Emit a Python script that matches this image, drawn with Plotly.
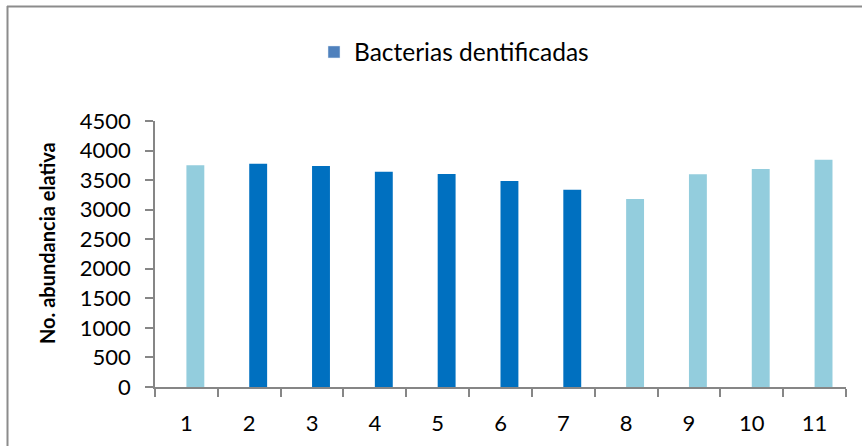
import plotly.graph_objects as go

# Sample numbers and their relative abundance
categories = ["1", "2", "3", "4", "5", "6", "7", "8", "9", "10", "11"]
abundance = [3750, 3775, 3740, 3640, 3605, 3485, 3335, 3180, 3600, 3690, 3845]
bar_colors = ["#93CDDD", "#0070C0", "#0070C0", "#0070C0", "#0070C0", "#0070C0",
              "#0070C0", "#93CDDD", "#93CDDD", "#93CDDD", "#93CDDD"]
y_ticks = [0, 500, 1000, 1500, 2000, 2500, 3000, 3500, 4000, 4500]
series_name = "Bacterias dentificadas"
y_title = "No. abundancia elativa"

FONT = "Lato, 'Open Sans', sans-serif"
AXIS_GRAY = "#868686"

fig = go.Figure()

fig.add_trace(go.Bar(
    x=categories, y=abundance,
    marker=dict(color=bar_colors, line=dict(width=0)),
    offset=0, width=0.285,
    showlegend=False,
))

# legend entry in the series colour
fig.add_trace(go.Bar(
    x=[categories[0]], y=[None], name=series_name,
    marker=dict(color="#4F81BD"), showlegend=True,
))

L, R, T, B = 155, 16, 121, 59
W, H = 862, 446
pw = W - L - R
ph = H - T - B

def px_x(p):
    return (p - L) / pw

def px_y(p):
    return (H - B - p) / ph

# chart frame: left and top edges
fig.add_shape(type="line", xref="paper", yref="paper",
              x0=px_x(7.5), x1=px_x(7.5), y0=px_y(6), y1=px_y(H + 5),
              line=dict(color="#8C8C8C", width=2))
fig.add_shape(type="line", xref="paper", yref="paper",
              x0=px_x(7), x1=px_x(W + 5), y0=px_y(6.5), y1=px_y(6.5),
              line=dict(color="#8C8C8C", width=2))

# vertical axis title
fig.add_annotation(
    text="<b>" + y_title + "</b>", textangle=-90,
    xref="paper", yref="paper", x=px_x(47), y=px_y(243),
    xanchor="center", yanchor="middle", showarrow=False,
    font=dict(size=20, family=FONT, color="black"),
)

fig.update_layout(
    width=W, height=H,
    margin=dict(l=L, r=R, t=T, b=B, pad=0),
    paper_bgcolor="white", plot_bgcolor="white",
    font=dict(family=FONT, color="black"),
    bargap=0.7,
    legend=dict(
        orientation="h", x=px_x(314), xanchor="left",
        y=px_y(52), yanchor="middle",
        font=dict(size=24.5, family=FONT, color="black"),
        bgcolor="rgba(0,0,0,0)",
    ),
    xaxis=dict(
        type="category", showgrid=False, zeroline=False, automargin=False,
        showline=True, linecolor=AXIS_GRAY, linewidth=1.5,
        ticks="outside", ticklen=8, tickcolor=AXIS_GRAY, tickwidth=1.5,
        tickson="boundaries",
        tickfont=dict(size=22, family=FONT, color="black"),
        ticklabelstandoff=16,
    ),
    yaxis=dict(
        range=[0, 4500], tickvals=y_ticks, showgrid=False, zeroline=False,
        automargin=False,
        showline=True, linecolor=AXIS_GRAY, linewidth=1.5,
        ticks="outside", ticklen=8, tickcolor=AXIS_GRAY, tickwidth=1.5,
        tickfont=dict(size=22, family=FONT, color="black"),
        ticklabelstandoff=10,
    ),
)

fig.write_html("out.html")
